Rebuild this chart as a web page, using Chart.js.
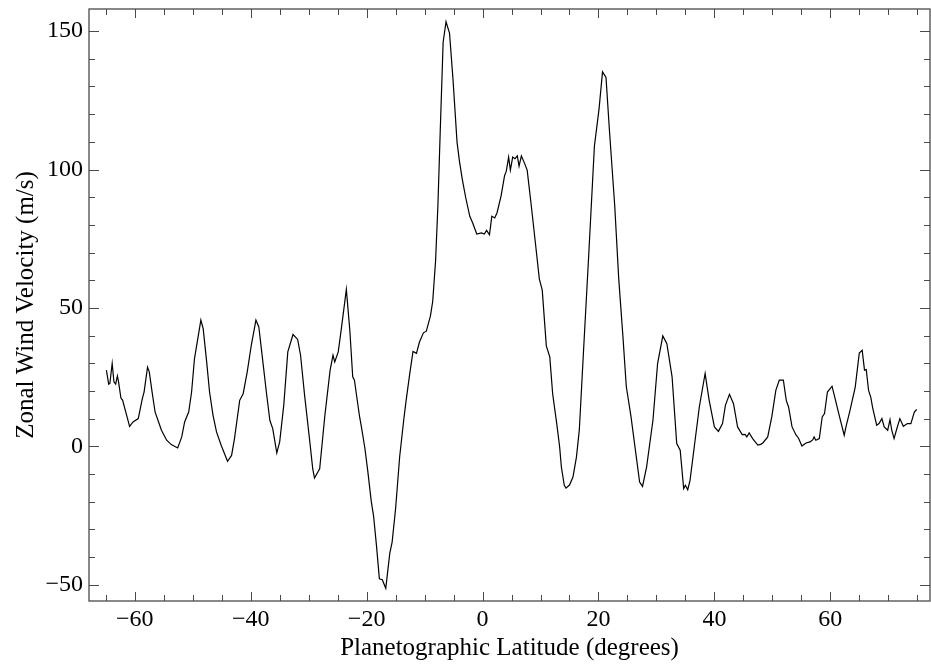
<!DOCTYPE html>
<html>
<head>
<meta charset="utf-8">
<script src="https://cdn.jsdelivr.net/npm/chart.js@4/dist/chart.umd.min.js"></script>
<style>
  html,body{margin:0;padding:0;background:#fff;}
  canvas{display:block;}
</style>
</head>
<body>
<canvas id="windChart" width="931" height="669"></canvas>
<script>
// latitude (deg) and zonal wind (m/s)
const latitude = [
  -64.9,-64.5,-64.3,-63.9,-63.6,-63.3,-63.0,-62.8,-62.4,-62.1,-61.4,-60.9,-60.3,-59.4,-58.7,-58.4,
  -57.8,-57.5,-57.0,-56.5,-56.0,-55.4,-54.5,-53.7,-52.6,-51.9,-51.4,-50.7,-50.2,-49.7,-48.6,-48.2,
  -47.6,-47.1,-46.5,-45.9,-45.1,-44.0,-43.3,-42.8,-41.9,-41.3,-40.6,-39.9,-39.1,-38.6,-37.9,-37.3,
  -36.7,-36.2,-35.5,-35.0,-34.3,-33.6,-32.7,-31.9,-31.4,-30.7,-29.8,-29.3,-29.0,-28.1,-27.2,-26.3,
  -25.8,-25.5,-24.9,-24.4,-23.5,-22.9,-22.4,-22.1,-21.7,-21.2,-20.9,-20.3,-19.8,-19.2,-18.8,-18.3,
  -17.8,-17.3,-16.7,-16.0,-15.6,-15.0,-14.3,-13.6,-13.2,-12.6,-12.0,-11.4,-10.9,-10.2,-9.7,-9.0,
  -8.6,-8.1,-7.7,-7.3,-6.8,-6.3,-5.7,-5.1,-4.4,-4.0,-3.5,-2.9,-2.2,-1.7,-1.0,-0.2,
  0.3,0.7,1.2,1.6,2.1,2.5,3.2,3.8,4.1,4.5,4.8,5.2,5.6,6.0,6.3,6.7,
  7.2,7.7,8.4,9.1,9.8,10.3,11.0,11.6,12.1,12.8,13.3,13.6,14.1,14.4,15.0,15.6,
  16.2,16.7,17.4,18.3,19.3,20.1,20.7,21.3,21.9,22.8,23.5,24.2,24.8,25.6,27.1,27.6,
  28.3,29.4,30.2,31.1,31.8,32.7,33.5,34.1,34.7,35.0,35.4,35.8,36.6,37.4,38.4,39.1,
  40.0,40.7,41.4,41.9,42.6,43.3,44.0,44.8,45.3,45.6,46.0,46.6,47.5,48.0,48.4,49.2,
  49.9,50.6,51.2,51.9,52.4,52.8,53.4,54.1,54.5,55.1,55.8,56.5,57.0,57.2,57.5,58.1,
  58.6,59.0,59.5,60.3,60.9,61.6,62.4,62.7,63.4,64.3,65.0,65.5,65.9,66.2,66.6,67.0,
  67.3,68.0,68.4,68.9,69.3,69.9,70.3,70.6,71.0,71.4,72.0,72.6,73.3,73.9,74.5,74.9
];
const velocity = [
  27.5,22.4,22.7,29.9,23.3,22.5,25.4,23.3,17.5,16.6,11.2,7.2,8.8,10.0,17.2,19.6,
  28.6,26.9,19.4,12.4,9.4,5.8,2.2,0.6,-0.6,3.4,8.8,12.4,19.6,31.7,45.6,42.5,
  30.5,19.6,11.2,5.2,0.4,-5.4,-3.3,2.8,16.6,19.0,26.9,36.5,45.6,43.1,30.5,19.6,
  9.4,6.4,-2.4,1.6,14.8,34.1,40.4,38.6,32.9,18.4,1.6,-8.1,-11.5,-8.1,11.2,27.5,
  32.9,30.5,34.1,41.9,56.7,41.9,25.1,23.9,17.8,10.5,7.0,-0.7,-9.0,-19.9,-25.2,-35.9,
  -47.9,-48.2,-51.3,-38.6,-34.6,-22.5,-3.8,9.5,16.3,25.6,34.3,33.6,37.6,41.0,41.6,47.0,
  52.3,67.1,87.1,113.9,146.0,153.4,149.3,132.6,109.9,103.2,96.5,89.8,83.1,80.7,76.7,77.1,
  76.7,78.0,76.4,83.1,82.5,84.4,90.5,97.8,99.4,104.5,99.8,104.5,103.9,104.9,101.2,104.9,
  102.5,99.8,87.1,73.8,60.4,56.4,36.3,32.3,18.9,8.2,-0.2,-7.5,-14.1,-15.1,-14.0,-11.1,
  -3.9,6.0,33.6,68.4,108.5,121.9,135.3,133.3,113.9,87.1,60.4,40.3,21.6,10.9,-12.9,-14.5,
  -7.5,9.4,29.9,39.9,37.1,25.1,1.0,-1.4,-15.3,-14.1,-15.7,-12.3,1.0,14.2,26.3,16.6,
  7.0,5.4,8.2,14.8,18.8,15.4,7.0,4.2,4.3,3.4,4.8,2.8,0.4,0.7,1.3,3.4,
  10.6,20.2,23.9,23.9,16.6,14.2,7.0,4.0,3.0,0.1,1.2,1.6,2.4,3.4,2.2,2.8,
  10.6,11.8,19.6,21.7,16.6,10.6,4.0,7.0,13.0,21.4,33.7,34.7,27.5,27.7,20.2,17.6,
  14.0,7.6,8.2,10.0,7.0,5.8,9.6,5.8,2.8,5.8,10.0,7.2,8.2,8.2,12.4,13.3
];

const xTicks = [];
for (let v = -65; v <= 75; v += 5) xTicks.push(v);
const yTicks = [];
for (let v = -50; v <= 150; v += 10) yTicks.push(v);
const xMajor = [-60, -40, -20, 0, 20, 40, 60];
const yMajor = [-50, 0, 50, 100, 150];

const serif = '"Liberation Serif", "Times New Roman", serif';
const frameColor = '#4a4a4a';

function fmt(v){ return v < 0 ? '\u2212' + Math.abs(v) : String(v); }

// frame, inward ticks on all four sides, axis titles
const framePlugin = {
  id: 'frame',
  afterDraw(chart){
    const {ctx, chartArea: a, scales} = chart;
    ctx.save();
    ctx.strokeStyle = frameColor;
    ctx.lineWidth = 1.3;
    ctx.strokeRect(a.left, a.top, a.right - a.left, a.bottom - a.top);
    ctx.lineWidth = 1;
    ctx.beginPath();
    xTicks.forEach(v=>{
      const px = Math.round(scales.x.getPixelForValue(v)) + 0.5;
      const len = xMajor.includes(v) ? 9 : 6;
      ctx.moveTo(px, a.bottom); ctx.lineTo(px, a.bottom - len);
      ctx.moveTo(px, a.top); ctx.lineTo(px, a.top + len);
    });
    yTicks.forEach(v=>{
      const py = Math.round(scales.y.getPixelForValue(v)) + 0.5;
      const len = yMajor.includes(v) ? 10 : 6;
      ctx.moveTo(a.left, py); ctx.lineTo(a.left + len, py);
      ctx.moveTo(a.right, py); ctx.lineTo(a.right - len, py);
    });
    ctx.stroke();

    ctx.fillStyle = '#000';
    ctx.font = '25px ' + serif;
    ctx.textAlign = 'center';
    ctx.textBaseline = 'alphabetic';
    ctx.fillText('Planetographic Latitude (degrees)', (a.left + a.right) / 2, 655);
    ctx.translate(33, (a.top + a.bottom) / 2);
    ctx.rotate(-Math.PI / 2);
    ctx.fillText('Zonal Wind Velocity (m/s)', 0, 0);
    ctx.restore();
  }
};

function noPad(s){
  s.paddingTop = 0; s.paddingBottom = 0;
  s.paddingLeft = 0; s.paddingRight = 0;
}

new Chart(document.getElementById('windChart'), {
  type: 'line',
  data: {
    datasets: [{
      data: latitude.map((x, i) => ({x, y: velocity[i]})),
      borderColor: '#000',
      borderWidth: 1.2,
      pointRadius: 0,
      tension: 0,
      fill: false
    }]
  },
  options: {
    responsive: false,
    animation: false,
    devicePixelRatio: 1,
    layout: {padding: {top: 9, right: 1, left: 0, bottom: 0}},
    plugins: {legend: {display: false}, tooltip: {enabled: false}},
    scales: {
      x: {
        type: 'linear',
        min: -67.9,
        max: 77.2,
        afterBuildTicks: s => { s.ticks = xTicks.map(v => ({value: v})); },
        afterFit: s => { s.height = 68; noPad(s); },
        grid: {display: false, drawTicks: false},
        border: {display: false},
        ticks: {
          autoSkip: false,
          maxRotation: 0,
          padding: 4,
          color: '#000',
          font: {family: serif, size: 24},
          callback: v => xMajor.includes(v) ? fmt(v) : ''
        }
      },
      y: {
        type: 'linear',
        min: -55.9,
        max: 158,
        afterBuildTicks: s => { s.ticks = yTicks.map(v => ({value: v})); },
        afterFit: s => { s.width = 89; noPad(s); },
        grid: {display: false, drawTicks: false},
        border: {display: false},
        ticks: {
          autoSkip: false,
          padding: 6,
          color: '#000',
          font: {family: serif, size: 24},
          callback: v => yMajor.includes(v) ? fmt(v) : ''
        }
      }
    }
  },
  plugins: [framePlugin]
});
</script>
</body>
</html>
